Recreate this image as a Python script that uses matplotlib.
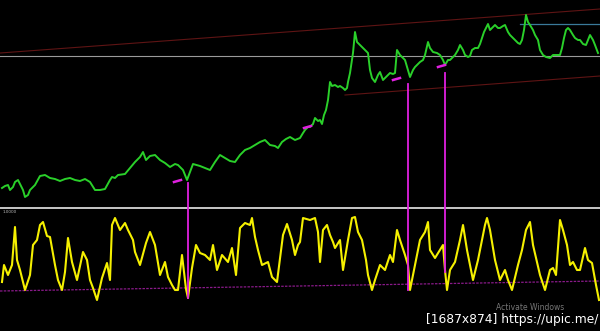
import matplotlib
matplotlib.use("Agg")
import matplotlib.pyplot as plt

# price path (bar position, screen level)
price_x = [2, 5, 8, 10, 13, 15, 18, 20, 23, 25, 28, 30, 35, 40, 45, 50, 55, 60, 65, 70,
           75, 80, 85, 90, 95, 100, 105, 110, 112, 115, 118, 125, 130, 135, 140, 143, 146, 150, 155, 160,
           165, 170, 175, 178, 183, 187, 190, 193, 200, 205, 210, 215, 220, 225, 230, 235, 240, 245, 250, 255,
           260, 265, 270, 275, 278, 282, 286, 290, 295, 300, 303, 305, 308, 310, 313, 315, 318, 320, 322, 324,
           326, 328, 330, 332, 335, 338, 340, 343, 345, 347, 348, 350, 352, 353, 355, 357, 360, 362, 365, 368,
           370, 372, 375, 378, 380, 383, 385, 388, 390, 393, 395, 397, 400, 403, 405, 408, 410, 413, 415, 418,
           420, 423, 425, 428, 430, 433, 437, 440, 443, 445, 448, 450, 455, 458, 460, 463, 465, 468, 470, 472,
           475, 478, 480, 482, 484, 486, 488, 490, 492, 495, 498, 500, 503, 505, 508, 510, 513, 515, 518, 520,
           522, 524, 526, 528, 530, 533, 535, 538, 540, 543, 546, 550, 553, 556, 560, 562, 564, 566, 568, 570,
           573, 575, 578, 580, 583, 586, 588, 590, 593, 595, 598]
price_y = [188, 186, 185, 190, 187, 182, 180, 184, 190, 197, 195, 190, 185, 176, 175, 178, 179, 181, 179, 178,
           180, 181, 179, 182, 190, 190, 189, 180, 177, 178, 175, 174, 168, 162, 157, 152, 160, 156, 155, 160,
           163, 167, 164, 165, 170, 180, 172, 164, 166, 168, 170, 162, 155, 158, 161, 162, 155, 150, 148, 145,
           142, 140, 145, 146, 148, 142, 139, 137, 140, 138, 133, 130, 127, 127, 124, 118, 121, 120, 124, 115,
           110, 100, 82, 86, 85, 87, 86, 88, 90, 88, 82, 73, 60, 53, 32, 42, 45, 47, 50, 53,
           70, 78, 82, 75, 72, 80, 78, 75, 73, 74, 73, 50, 55, 58, 60, 70, 77, 70, 67, 64,
           62, 60, 55, 42, 48, 52, 53, 55, 60, 65, 60, 60, 55, 50, 45, 50, 55, 57, 56, 50,
           48, 48, 44, 38, 32, 28, 24, 30, 28, 25, 28, 28, 26, 25, 32, 35, 38, 40, 43, 44,
           40, 30, 15, 22, 25, 30, 35, 40, 50, 55, 57, 58, 55, 55, 55, 48, 38, 30, 28, 30,
           35, 38, 40, 40, 44, 45, 40, 35, 40, 45, 53]

# oscillator (lower window)
osc_x = [2, 4, 8, 12, 15, 17, 20, 25, 30, 33, 37, 40, 43, 47, 50, 55, 58, 62, 65, 68,
         72, 77, 83, 87, 90, 93, 97, 102, 107, 110, 112, 115, 120, 125, 128, 133, 135, 140, 146, 150,
         155, 160, 165, 168, 172, 175, 178, 182, 186, 188, 192, 196, 200, 205, 210, 213, 217, 222, 228, 232,
         236, 240, 245, 250, 252, 255, 258, 262, 268, 272, 277, 283, 287, 292, 295, 298, 300, 303, 310, 315,
         318, 320, 323, 327, 330, 333, 335, 340, 343, 348, 352, 355, 358, 362, 366, 368, 372, 375, 380, 385,
         390, 393, 397, 400, 405, 408, 410, 415, 420, 425, 428, 430, 435, 440, 443, 445, 447, 450, 455, 460,
         463, 467, 470, 473, 478, 482, 485, 487, 490, 495, 500, 505, 508, 512, 518, 522, 526, 530, 533, 537,
         540, 545, 550, 553, 556, 560, 563, 567, 570, 573, 577, 580, 585, 588, 592, 596, 599]
osc_y = [282, 265, 275, 265, 227, 260, 270, 290, 275, 245, 240, 225, 222, 236, 237, 265, 280, 290, 272, 238,
         262, 280, 252, 260, 280, 288, 300, 278, 263, 280, 225, 218, 230, 223, 230, 240, 252, 265, 243, 232,
         245, 275, 262, 277, 285, 290, 290, 255, 289, 298, 268, 245, 253, 255, 260, 245, 270, 255, 262, 248,
         275, 228, 223, 225, 218, 237, 250, 265, 262, 277, 282, 235, 224, 240, 255, 245, 242, 218, 220, 218,
         232, 262, 230, 225, 235, 242, 248, 240, 270, 240, 218, 217, 232, 240, 260, 275, 290, 280, 265, 270,
         255, 262, 230, 240, 255, 265, 290, 265, 240, 232, 222, 250, 258, 250, 245, 270, 290, 270, 262, 240,
         225, 250, 265, 280, 260, 240, 225, 218, 230, 260, 280, 270, 280, 290, 265, 250, 230, 222, 245, 262,
         275, 290, 270, 268, 275, 220, 230, 245, 265, 262, 270, 270, 248, 260, 263, 285, 300]

# trend / level lines: (x0, y0, x1, y1)
channel_top = (0, 53, 600, 9)
channel_low = (345, 95, 600, 76)
resistance = (520, 24, 600, 24)
osc_trend = (0, 291, 600, 281)
level_y = 56
divider_y = 208

# signal markers: vertical links between the two windows
signal_x = [188, 408, 445]
signal_top = [183, 84, 73]
signal_bottom = [298, 290, 272]
arrow_x = [178, 308, 397, 442]
arrow_y = [181, 127, 79, 66]

fig = plt.figure(figsize=(6.0, 3.31), dpi=100, facecolor="black")
ax = fig.add_axes([0, 0, 1, 1])
ax.set_facecolor("black")
ax.set_xlim(0, 600)
ax.set_ylim(331, 0)
ax.axis("off")

ax.axhline(level_y, color="#9a9a9a", lw=0.8)
ax.axhline(divider_y, color="#c8c8c8", lw=1.4)
ax.plot(channel_top[::2], channel_top[1::2], color="#5e1414", lw=0.8)
ax.plot(channel_low[::2], channel_low[1::2], color="#5e1414", lw=0.8)
ax.plot(resistance[::2], resistance[1::2], color="#3a7a9a", lw=0.9)
ax.plot(osc_trend[::2], osc_trend[1::2], color="#8a1a8a", lw=0.9, ls=(0, (2, 1)))

ax.plot(price_x, price_y, color="#2ad02a", lw=1.4)
ax.plot(osc_x, osc_y, color="#f5f000", lw=1.5)

for x, y0, y1 in zip(signal_x, signal_top, signal_bottom):
    ax.plot([x, x], [y0, y1], color="#e020e0", lw=1.3)
for x, y in zip(arrow_x, arrow_y):
    ax.plot([x - 4, x + 3], [y + 1, y - 1], color="#e020e0", lw=1.8)

ax.text(3, 212, "1.0000", color="#bbbbbb", fontsize=3, va="center")
ax.text(530, 308, "Activate Windows", color="#777777", fontsize=5.5, ha="center", va="center")
ax.text(598, 320, "[1687x874] https://upic.me/", color="white", fontsize=8.8,
        ha="right", va="center")

fig.savefig("out.png", dpi=100, facecolor="black")
